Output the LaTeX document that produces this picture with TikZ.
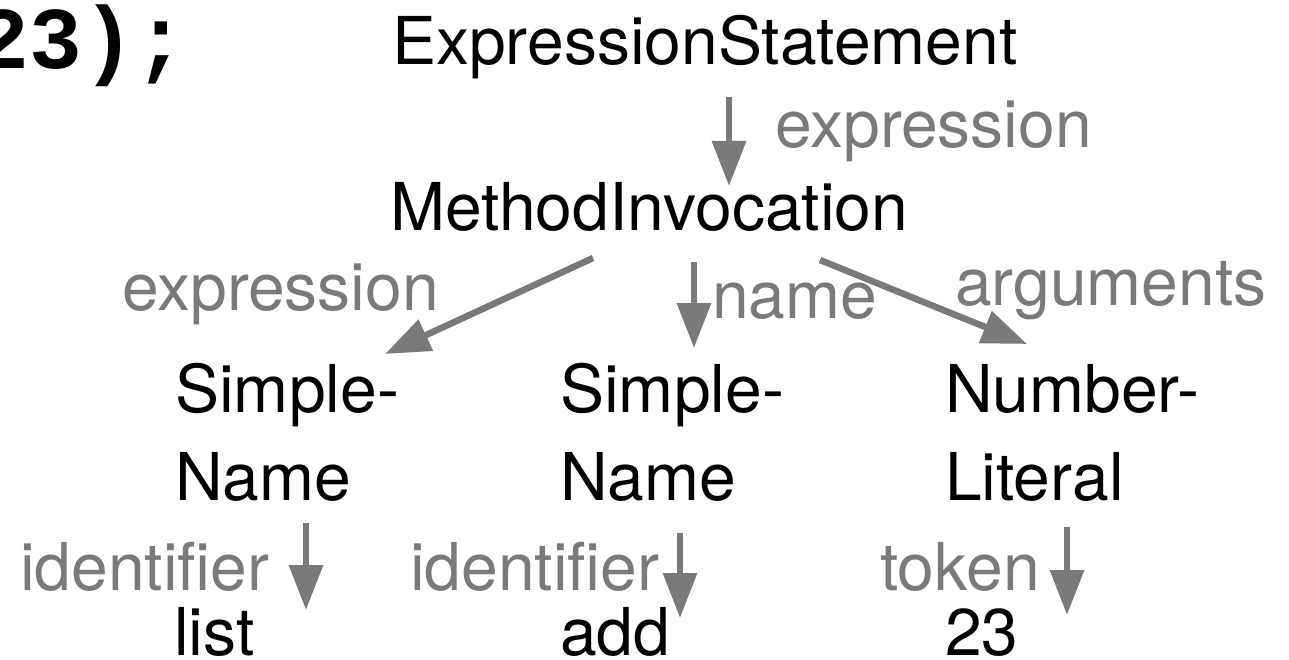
\documentclass[tikz,border=0pt]{standalone}
\usepackage{fontspec}
\setmainfont{TeX Gyre Heros}
\newfontfamily\codefont{Liberation Mono}
\usetikzlibrary{arrows.meta}
\definecolor{edgegray}{gray}{0.48}

\begin{document}
\begin{tikzpicture}[x=1pt,y=-1pt,
  lbl/.style={anchor=base west, inner sep=0pt, font=\fontsize{66}{79}\selectfont},
  term/.style={lbl, text=black},
  role/.style={lbl, text=edgegray},
  edge/.style={draw=edgegray, line width=6.5pt, -{Triangle[length=45pt,width=33pt]}}]
\useasboundingbox (0,0) rectangle (1289,660);
\clip (0,0) rectangle (1289,660);

% source fragment
\node[anchor=base east, inner sep=0pt, font=\codefont\bfseries\fontsize{88}{100}\selectfont] (code) at (188,69) {23);};

% tree nodes
\node[term] (es)   at (392,65)  {ExpressionStatement};
\node[term] (mi)   at (390,230) {MethodInvocation};
\node[term] (sn1a) at (175,412) {Simple-};
\node[term] (sn1b) at (175,500) {Name};
\node[term] (sn2a) at (560,412) {Simple-};
\node[term] (sn2b) at (560,500) {Name};
\node[term] (nla)  at (945,412) {Number-};
\node[term] (nlb)  at (945,500) {Literal};
\node[term] (v1)   at (174,655) {list};
\node[term] (v2)   at (560,655) {add};
\node[term] (v3)   at (945,655) {23};

% property labels
\node[role] (r-expr)  at (775,148) {expression};
\node[role] (r-expr2) at (122,310) {expression};
\node[role] (r-name)  at (712,318) {name};
\node[role] (r-args)  at (955,305) {arguments};
\node[role] (r-id1)   at (20,590)  {identifier};
\node[role] (r-id2)   at (410,590) {identifier};
\node[role] (r-tok)   at (880,590) {token};

% edge end points
\coordinate (es-out)   at (729,97);
\coordinate (mi-in)    at (729,186);
\coordinate (mi-out1)  at (593,258);
\coordinate (sn1-in)   at (385,354);
\coordinate (mi-out2)  at (694,262);
\coordinate (sn2-in)   at (694,348);
\coordinate (mi-out3)  at (820,260);
\coordinate (nl-in)    at (1027,344);
\coordinate (sn1-out)  at (306,523);
\coordinate (v1-in)    at (306,610);
\coordinate (sn2-out)  at (680,533);
\coordinate (v2-in)    at (680,618);
\coordinate (nl-out)   at (1067,527);
\coordinate (v3-in)    at (1067,615);

% edges
\draw[edge] (es-out) -- (mi-in);
\draw[edge] (mi-out1) -- (sn1-in);
\draw[edge] (mi-out2) -- (sn2-in);
\draw[edge] (mi-out3) -- (nl-in);
\draw[edge] (sn1-out) -- (v1-in);
\draw[edge] (sn2-out) -- (v2-in);
\draw[edge] (nl-out) -- (v3-in);
\end{tikzpicture}
\end{document}
